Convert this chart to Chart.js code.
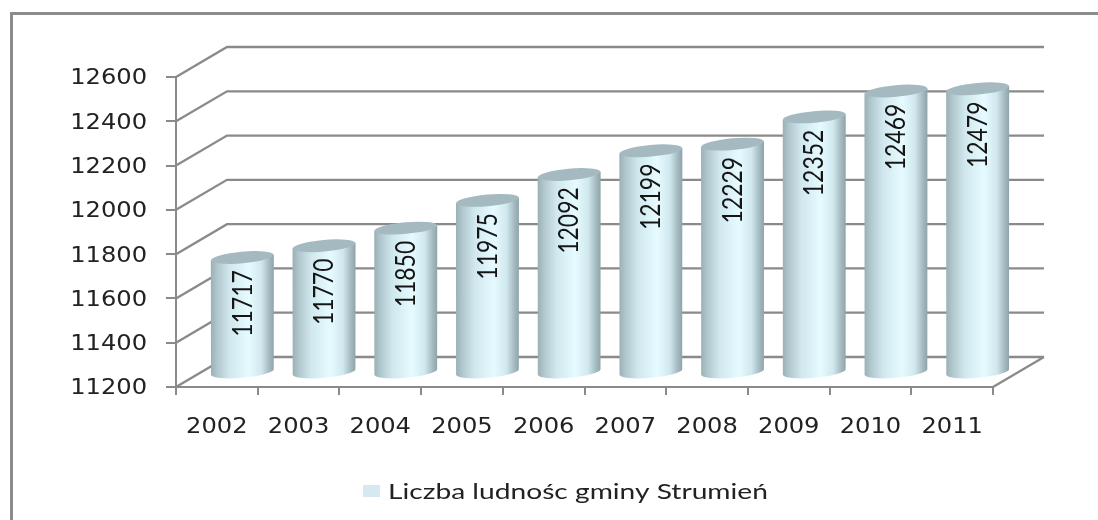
<!DOCTYPE html>
<html lang="pl">
<head>
<meta charset="utf-8">
<title>Liczba ludnośc gminy Strumień</title>
<script src="https://cdn.jsdelivr.net/npm/chart.js@4/dist/chart.umd.min.js"></script>
<style>
    html, body { margin: 0; padding: 0; background: #fff; overflow: hidden; }
    #ramka { position: absolute; left: 10px; top: 12px; right: 0; bottom: 0; border-left: 3px solid #8c8c8c; border-top: 3px solid #8c8c8c; }
    #wykres { position: absolute; left: 0; top: 0; }
</style>
</head>
<body>
<div id="ramka"></div>
<canvas id="wykres" width="1098" height="520"></canvas>
<script>
const lata = ['2002', '2003', '2004', '2005', '2006', '2007', '2008', '2009', '2010', '2011'];
const ludnosc = [11717, 11770, 11850, 11975, 12092, 12199, 12229, 12352, 12469, 12479];
const podzialkaY = [11200, 11400, 11600, 11800, 12000, 12200, 12400, 12600];
const nazwaSerii = 'Liczba ludnośc gminy Strumień';

const glebokoscX = 51;
const glebokoscY = -30;
const szary = '#8a8a8a';

// tekst rozciagniety w poziomie jak na oryginale
function tekst(ctx, str, x, y, font, skala, align, kolor) {
    ctx.save();
    ctx.translate(x, y);
    ctx.scale(skala, 1);
    ctx.font = font;
    ctx.fillStyle = kolor;
    ctx.textAlign = align;
    ctx.textBaseline = 'middle';
    ctx.fillText(str, 0, 0);
    ctx.restore();
}

// sciany i podloga
const sciany = {
    id: 'sciany',
    beforeDatasetsDraw(chart) {
        const ctx = chart.ctx;
        const sx = chart.scales.x;
        const sy = chart.scales.y;
        const left = sx.left;
        const right = sx.right;
        ctx.save();
        ctx.strokeStyle = szary;
        ctx.lineWidth = 2.3;
        ctx.beginPath();
        sy.ticks.forEach(function(t) {
            const y = sy.getPixelForValue(t.value);
            ctx.moveTo(left, y);
            ctx.lineTo(left + glebokoscX, y + glebokoscY);
            ctx.lineTo(right + glebokoscX, y + glebokoscY);
        });
        const dol = sy.getPixelForValue(podzialkaY[0]);
        ctx.moveTo(right, dol);
        ctx.lineTo(right + glebokoscX, dol + glebokoscY);
        ctx.stroke();
        ctx.restore();
    }
};

// walce rysowane na pozycjach slupkow
const walce = {
    id: 'walce',
    afterDatasetsDraw(chart) {
        const ctx = chart.ctx;
        const sy = chart.scales.y;
        const baza = sy.getPixelForValue(podzialkaY[0]) + glebokoscY / 2;
        const kat = -0.09;
        chart.getDatasetMeta(0).data.forEach(function(bar, i) {
            const cx = bar.x + glebokoscX / 2;
            const cy = bar.y + glebokoscY / 2;
            const rx = bar.width / 2;
            const ry = 5.8;
            const sk = rx * Math.sin(kat);

            const g = ctx.createLinearGradient(cx - rx, 0, cx + rx, 0);
            g.addColorStop(0, '#9ab0b5');
            g.addColorStop(0.1, '#b0c7cd');
            g.addColorStop(0.3, '#d0e8ee');
            g.addColorStop(0.6, '#e6fbff');
            g.addColorStop(0.8, '#d0e8ee');
            g.addColorStop(0.93, '#a3b9bf');
            g.addColorStop(1, '#8fa4a9');

            ctx.save();
            ctx.beginPath();
            ctx.moveTo(cx - rx, cy - sk);
            ctx.ellipse(cx, baza, rx, ry, kat, Math.PI, 0, true);
            ctx.lineTo(cx + rx, cy + sk);
            ctx.closePath();
            ctx.fillStyle = g;
            ctx.fill();

            ctx.beginPath();
            ctx.ellipse(cx, cy, rx, ry, kat, 0, Math.PI * 2);
            ctx.fillStyle = '#a5bac0';
            ctx.fill();

            // etykieta wartosci
            ctx.translate(cx + 0.5, cy + 46);
            ctx.rotate(-Math.PI / 2);
            ctx.scale(0.85, 1);
            ctx.font = '27px Lato';
            ctx.fillStyle = '#151515';
            ctx.textAlign = 'center';
            ctx.textBaseline = 'middle';
            ctx.fillText(String(ludnosc[i]), 0, 0);
            ctx.restore();
        });
    }
};

// opisy osi i legenda
const opisy = {
    id: 'opisy',
    afterDraw(chart) {
        const ctx = chart.ctx;
        const sx = chart.scales.x;
        const sy = chart.scales.y;
        sy.ticks.forEach(function(t) {
            tekst(ctx, String(t.value), 147, sy.getPixelForValue(t.value) + 2, '21px "DejaVu Sans"', 1.15, 'right', '#222');
        });
        lata.forEach(function(rok, i) {
            tekst(ctx, rok, sx.getPixelForValue(i), 428, '21px "DejaVu Sans"', 1.15, 'center', '#222');
        });
        ctx.fillStyle = '#d6e9f1';
        ctx.fillRect(363, 485, 17, 12);
        tekst(ctx, nazwaSerii, 388, 492, '22px Lato', 1.28, 'left', '#222');
    }
};

document.addEventListener('DOMContentLoaded', function() {
    const ctx = document.getElementById('wykres').getContext('2d');
    new Chart(ctx, {
        type: 'bar',
        data: {
            labels: lata,
            datasets: [{
                label: nazwaSerii,
                data: ludnosc,
                backgroundColor: 'transparent',
                categoryPercentage: 1,
                barPercentage: 0.771
            }]
        },
        plugins: [sciany, walce, opisy],
        options: {
            responsive: false,
            animation: false,
            layout: {
                padding: { left: 166, right: 105, top: 77, bottom: 125 }
            },
            scales: {
                x: {
                    ticks: { display: false },
                    border: { color: szary, width: 2 },
                    grid: { drawOnChartArea: false, color: szary, lineWidth: 2, tickLength: 8 }
                },
                y: {
                    min: podzialkaY[0],
                    max: podzialkaY[podzialkaY.length - 1],
                    afterBuildTicks: function(axis) {
                        axis.ticks = podzialkaY.map(function(v) { return { value: v }; });
                    },
                    ticks: { display: false },
                    border: { color: szary, width: 2 },
                    grid: { drawOnChartArea: false, color: szary, lineWidth: 2, tickLength: 10 }
                }
            },
            plugins: {
                legend: { display: false },
                tooltip: { enabled: false }
            }
        }
    });
});
</script>
</body>
</html>
